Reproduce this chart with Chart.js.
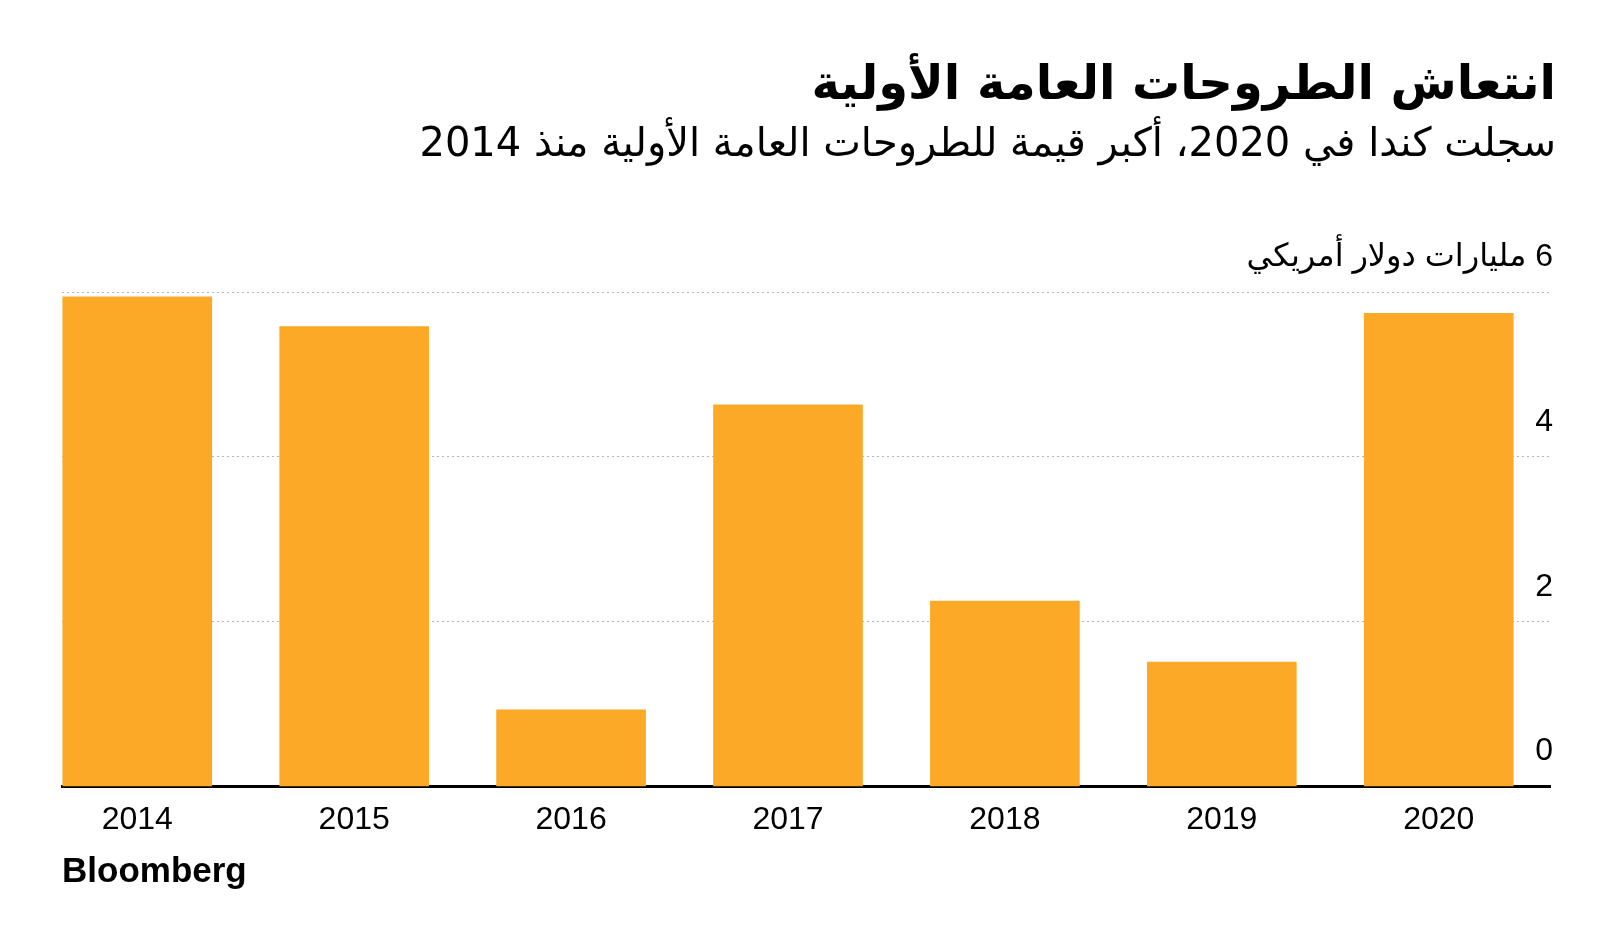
<!DOCTYPE html>
<html lang="ar">
<head>
<meta charset="utf-8">
<script src="https://cdn.jsdelivr.net/npm/chart.js@4/dist/chart.umd.min.js"></script>
<style>
    html, body { margin: 0; padding: 0; background: #fff; }
    .page { position: relative; width: 1600px; height: 931px; overflow: hidden; }
    #ipoChart { position: absolute; left: 0; top: 0; }
    .headline {
        position: absolute; right: 44px; top: 55px;
        font: bold 48px 'DejaVu Sans', sans-serif; line-height: 54px;
        color: #000; direction: rtl; white-space: nowrap;
    }
    .subhead {
        position: absolute; right: 44px; top: 119px;
        font: 40px 'DejaVu Sans', sans-serif; line-height: 47px;
        color: #000; direction: rtl; white-space: nowrap;
    }
    .source {
        position: absolute; left: 62px; top: 853px;
        font: bold 35px 'Liberation Sans', Arial, sans-serif; line-height: 34px;
        color: #000;
    }
</style>
</head>
<body>
<div class="page">
    <canvas id="ipoChart" width="1600" height="931" dir="rtl"></canvas>
    <div class="headline">انتعاش الطروحات العامة الأولية</div>
    <div class="subhead">سجلت كندا في 2020، أكبر قيمة للطروحات العامة الأولية منذ 2014</div>
    <div class="source">Bloomberg</div>
</div>
<script>
// IPO value per year, billions of US dollars
const years = [2014, 2015, 2016, 2017, 2018, 2019, 2020];
const ipoValues = [5.94, 5.58, 0.93, 4.63, 2.25, 1.51, 5.74];
const yTicks = [0, 2, 4, 6];
const unitLabel = 'مليارات دولار أمريكي';

const barColor = '#fca927';

const ctx = document.getElementById('ipoChart').getContext('2d');
new Chart(ctx, {
    type: 'bar',
    data: {
        datasets: [{
            data: years.map((y, i) => ({ x: y, y: ipoValues[i] })),
            backgroundColor: barColor,
            borderWidth: 0,
            barThickness: 149
        }]
    },
    options: {
        responsive: false,
        animation: false,
        layout: {
            // mirrored y axis still takes a few px on the right
            padding: { top: 292, bottom: 78, left: 62, right: 44 }
        },
        plugins: {
            legend: { display: false },
            tooltip: { enabled: false }
        },
        scales: {
            x: {
                type: 'linear',
                offset: false,
                bounds: 'data',
                min: 2013.653,
                max: 2020.513,
                afterBuildTicks: scale => {
                    scale.ticks = years.map(v => ({ value: v }));
                },
                grid: { display: false, drawTicks: false },
                border: { display: true, color: '#000', width: 3 },
                ticks: {
                    padding: 14,
                    color: '#000',
                    font: { family: "'Liberation Sans', Arial, sans-serif", size: 32 },
                    callback: v => String(v)
                }
            },
            y: {
                position: 'right',
                min: 0,
                max: 6,
                afterBuildTicks: scale => {
                    scale.ticks = yTicks.map(v => ({ value: v }));
                },
                grid: {
                    drawTicks: false,
                    color: c => c.tick && c.tick.value === 0 ? 'rgba(0,0,0,0)' : '#b5b5b5',
                    lineWidth: 1
                },
                border: { display: false, dash: [2, 3] },
                ticks: {
                    mirror: true,
                    padding: 3,
                    labelOffset: -35,
                    color: '#000',
                    font: { family: "'Liberation Sans', 'DejaVu Sans', sans-serif", size: 32 },
                    callback: v => v === 6 ? v + ' ' + unitLabel : String(v)
                }
            }
        }
    }
});
</script>
</body>
</html>
